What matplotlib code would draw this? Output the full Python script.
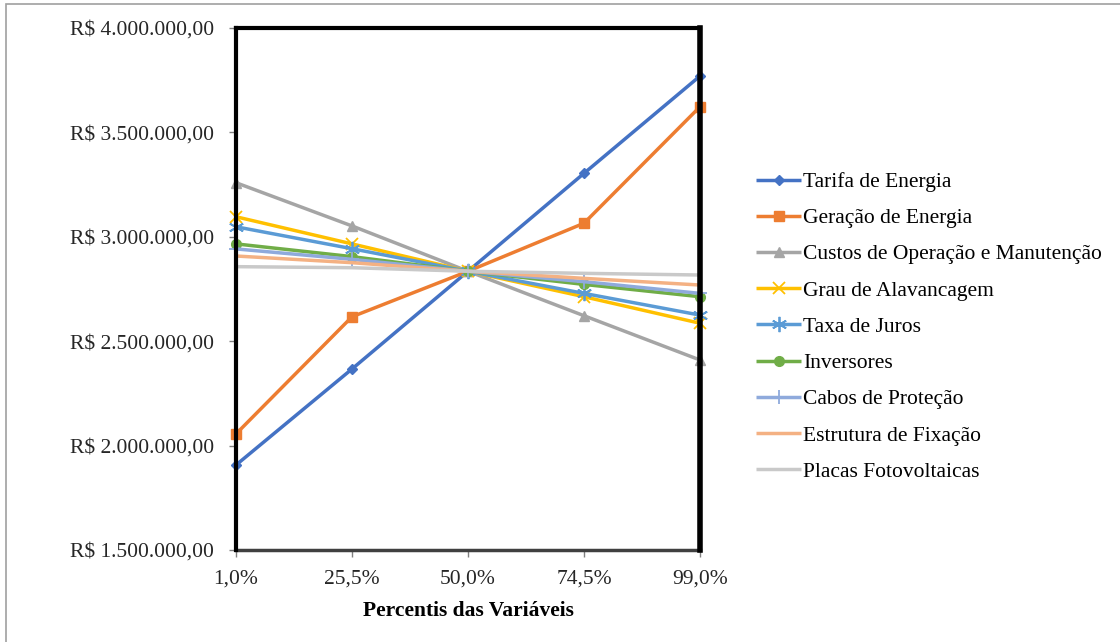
import matplotlib.pyplot as plt
from matplotlib.patches import Rectangle
from matplotlib.ticker import FuncFormatter

# Percentis das variáveis e VPL (R$) para cada variável
percentis = ['1,0%', '25,5%', '50,0%', '74,5%', '99,0%']

tarifa = [1907000, 2367000, 2835000, 3304000, 3770000]
geracao = [2056000, 2617000, 2835000, 3065000, 3623000]
custos = [3259000, 3052000, 2835000, 2622000, 2410000]
grau = [3096000, 2966000, 2835000, 2713000, 2586000]
taxa = [3048000, 2943000, 2835000, 2729000, 2625000]
inversores = [2966000, 2905000, 2835000, 2772000, 2713000]
cabos = [2942000, 2892000, 2835000, 2785000, 2729000]
estrutura = [2908000, 2876000, 2835000, 2801000, 2769000]
placas = [2857000, 2852000, 2835000, 2825000, 2817000]

nomes = ['Tarifa de Energia', 'Geração de Energia', 'Custos de Operação e Manutenção',
         'Grau de Alavancagem', 'Taxa de Juros', 'Inversores', 'Cabos de Proteção',
         'Estrutura de Fixação', 'Placas Fotovoltaicas']
series = [tarifa, geracao, custos, grau, taxa, inversores, cabos, estrutura, placas]
cores = ['#4472C4', '#ED7D31', '#A5A5A5', '#FFC000', '#5B9BD5', '#70AD47',
         '#8FAADC', '#F4B183', '#C9C9C9']
marcadores = ['D', 's', '^', 'x', (6, 2, 0), 'o', '+', None, None]
tamanhos = [5, 7, 7, 9, 11, 7, 10, 0, 0]

plt.rcParams['font.family'] = ['Liberation Serif', 'DejaVu Serif']

fig = plt.figure(figsize=(11.2, 6.42), dpi=100)
ax = fig.add_axes([236 / 1120, 1 - 550 / 642, 464 / 1120, 522 / 642])

x = list(range(len(percentis)))
for nome, valores, cor, m, t in zip(nomes, series, cores, marcadores, tamanhos):
    ax.plot(x, valores, color=cor, lw=2.5, marker=m, markersize=t,
            markeredgewidth=1.3 if m in ('x', '+', (6, 2, 0)) else 1,
            label=nome, solid_capstyle='butt', clip_on=False, zorder=3)

ax.set_xlim(0, 4)
ax.set_ylim(1500000, 4000000)
ax.set_yticks([1500000, 2000000, 2500000, 3000000, 3500000, 4000000])
ax.yaxis.set_major_formatter(FuncFormatter(
    lambda v, p: 'R$ ' + f'{v:,.2f}'.replace(',', 'X').replace('.', ',').replace('X', '.')))
ax.set_xticks(x)
ax.set_xticklabels(percentis)
ax.tick_params(axis='both', labelsize=15.5, colors='#808080', labelcolor='#262626',
               length=5, width=1)
ax.tick_params(axis='y', pad=11)
ax.tick_params(axis='x', pad=9)

for lado in ['left', 'top', 'right']:
    ax.spines[lado].set_color('black')
    ax.spines[lado].set_linewidth(3)
    ax.spines[lado].set_zorder(4)
ax.spines['right'].set_linewidth(4)
ax.spines['bottom'].set_color('#404040')
ax.spines['bottom'].set_linewidth(2.5)

ax.set_xlabel('Percentis das Variáveis', fontsize=15.5, fontweight='bold', labelpad=9)

ax.legend(loc='upper left', bbox_to_anchor=(756 / 1120, 1 - 172 / 642),
          bbox_transform=fig.transFigure, frameon=False, fontsize=15.5,
          handlelength=2.1, handletextpad=0.1, labelspacing=0.75, borderaxespad=0,
          borderpad=0)

# borda da área do gráfico
fig.patches.append(Rectangle((6 / 1120, -0.1), 1.2, 1 - 4 / 642 + 0.1,
                             transform=fig.transFigure, fill=False,
                             edgecolor='#A0A0A0', lw=1.2))

fig.savefig('out.png', dpi=100)
